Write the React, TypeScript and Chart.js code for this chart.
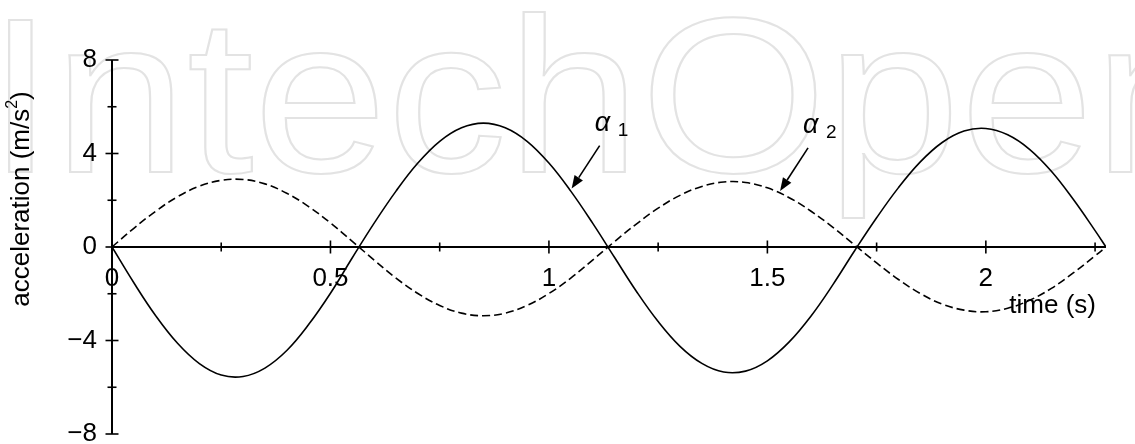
import { useEffect, useRef } from 'react';
import { Chart, registerables } from 'chart.js';

Chart.register(...registerables);

const FONT = "'Liberation Sans', Arial, Helvetica, sans-serif";

// Sample times (s)
const timeS = [
  0, 0.05, 0.1, 0.15, 0.2, 0.25, 0.3, 0.35, 0.4, 0.45, 0.5, 0.55,
  0.6, 0.65, 0.7, 0.75, 0.8, 0.85, 0.9, 0.95, 1.0, 1.05, 1.1,
  1.15, 1.2, 1.25, 1.3, 1.35, 1.4, 1.45, 1.5, 1.55, 1.6, 1.65, 1.7,
  1.75, 1.8, 1.85, 1.9, 1.95, 2.0, 2.05, 2.1, 2.15, 2.2, 2.25, 2.275,
];

// Angular acceleration of body 1 (m/s²)
const alpha1 = [
  0, -1.53, -2.94, -4.12, -4.99, -5.48, -5.54, -5.18, -4.43, -3.32, -1.98, -0.46,
  1.02, 2.39, 3.59, 4.52, 5.1, 5.3, 5.1, 4.52, 3.59, 2.39, 1.02,
  -0.44, -1.89, -3.19, -4.25, -4.98, -5.35, -5.31, -4.87, -4.06, -2.95, -1.61, -0.15,
  1.25, 2.54, 3.64, 4.47, 4.96, 5.07, 4.8, 4.18, 3.24, 2.04, 0.7, 0,
];

// Angular acceleration of body 2 (m/s²)
const alpha2 = [
  0, 0.8, 1.53, 2.15, 2.6, 2.85, 2.89, 2.7, 2.3, 1.73, 1.03, 0.24,
  -0.56, -1.33, -1.99, -2.5, -2.83, -2.94, -2.83, -2.5, -1.99, -1.33, -0.56,
  0.23, 0.98, 1.66, 2.21, 2.59, 2.78, 2.76, 2.53, 2.11, 1.53, 0.84, 0.08,
  -0.68, -1.39, -1.99, -2.44, -2.7, -2.77, -2.62, -2.28, -1.77, -1.11, -0.38, 0,
];

const seriesNames = ['α1', 'α2'];
const calloutSymbols = ['α', 'α'];
const calloutSubs = ['1', '2'];
// where each callout arrow touches its curve (time, acceleration)
const calloutTimes = [1.052, 1.529];
const calloutValues = [2.5, 2.4];

const xMin = 0;
const xMax = 2.275;
const xStep = 0.25;
const xLabelStep = 0.5;
const yMin = -8;
const yMax = 8;
const yStep = 2;
const yLabelStep = 4;

const xTitle = 'time (s)';
const yTitleMain = 'acceleration (m/s';
const yTitleSup = '2';
const yTitleEnd = ')';
const watermark = 'IntechOpen';

const isMultiple = (v: number, step: number) =>
  Math.abs(v / step - Math.round(v / step)) < 1e-6;

const fmtNum = (v: number) => {
  const r = Math.round(v * 100) / 100;
  return r < 0 ? '\u2212' + String(Math.abs(r)) : String(r);
};

const decorPlugin = {
  id: 'decor',
  beforeDraw(chart: any) {
    const { ctx, width, height } = chart;
    ctx.save();
    ctx.fillStyle = '#ffffff';
    ctx.fillRect(0, 0, width, height);
    ctx.translate(-13, 172);
    ctx.scale(1.09, 1);
    ctx.font = `220px ${FONT}`;
    ctx.textBaseline = 'alphabetic';
    ctx.textAlign = 'left';
    ctx.strokeStyle = '#e3e3e3';
    ctx.lineWidth = 2;
    ctx.strokeText(watermark, 0, 0);
    ctx.restore();
  },
  afterDatasetsDraw(chart: any) {
    const { ctx } = chart;
    const xs = chart.scales.x;
    const ys = chart.scales.y;
    const x0 = xs.getPixelForValue(0);
    const y0 = ys.getPixelForValue(0);

    const seg = (ax: number, ay: number, bx: number, by: number) => {
      ctx.beginPath();
      ctx.moveTo(ax, ay);
      ctx.lineTo(bx, by);
      ctx.stroke();
    };

    ctx.save();
    ctx.strokeStyle = '#000';
    ctx.lineCap = 'butt';
    ctx.lineWidth = 2;
    // axis lines crossing at the origin
    seg(x0, ys.top, x0, ys.bottom);
    seg(xs.left, y0, xs.right, y0);

    // tick marks crossing the axis lines
    ctx.lineWidth = 1.6;
    ys.ticks.forEach((t: any) => {
      const p = ys.getPixelForValue(t.value);
      const h = isMultiple(t.value, yLabelStep) ? 6.5 : 4.5;
      seg(x0 - h, p, x0 + h, p);
    });
    xs.ticks.forEach((t: any) => {
      const p = xs.getPixelForValue(t.value);
      const h = isMultiple(t.value, xLabelStep) ? 6.5 : 4.5;
      seg(p, y0 - h, p, y0 + h);
    });

    // callout arrows and labels
    ctx.fillStyle = '#000';
    calloutTimes.forEach((t, i) => {
      const tipX = xs.getPixelForValue(t);
      const tipY = ys.getPixelForValue(calloutValues[i]);
      const tailX = tipX + 28;
      const tailY = tipY - 43;
      const ang = Math.atan2(tipY - tailY, tipX - tailX);
      const headLen = 13;
      const headHalf = 5;
      const bx = tipX - headLen * Math.cos(ang);
      const by = tipY - headLen * Math.sin(ang);
      ctx.lineWidth = 1.6;
      seg(tailX, tailY, bx, by);
      ctx.beginPath();
      ctx.moveTo(tipX, tipY);
      ctx.lineTo(bx + headHalf * Math.sin(ang), by - headHalf * Math.cos(ang));
      ctx.lineTo(bx - headHalf * Math.sin(ang), by + headHalf * Math.cos(ang));
      ctx.closePath();
      ctx.fill();

      ctx.textAlign = 'left';
      ctx.textBaseline = 'alphabetic';
      ctx.font = `italic 27px ${FONT}`;
      ctx.fillText(calloutSymbols[i], tipX + 23, tipY - 58);
      ctx.font = `19px ${FONT}`;
      ctx.fillText(calloutSubs[i], tipX + 46, tipY - 53);
    });

    // x axis title
    ctx.font = `26px ${FONT}`;
    ctx.textAlign = 'right';
    ctx.textBaseline = 'middle';
    ctx.fillText(xTitle, xs.right - 10, y0 + 59);

    // y axis title, rotated
    ctx.translate(22, 199);
    ctx.rotate(-Math.PI / 2);
    ctx.textBaseline = 'middle';
    ctx.textAlign = 'left';
    ctx.font = `26px ${FONT}`;
    const w1 = ctx.measureText(yTitleMain).width;
    const w3 = ctx.measureText(yTitleEnd).width;
    ctx.font = `16px ${FONT}`;
    const w2 = ctx.measureText(yTitleSup).width;
    const start = -(w1 + w2 + w3) / 2;
    ctx.font = `26px ${FONT}`;
    ctx.fillText(yTitleMain, start, 0);
    ctx.font = `16px ${FONT}`;
    ctx.fillText(yTitleSup, start + w1, -9);
    ctx.font = `26px ${FONT}`;
    ctx.fillText(yTitleEnd, start + w1 + w2, 0);
    ctx.restore();
  },
};

export default function App() {
  const canvasRef = useRef<HTMLCanvasElement | null>(null);

  useEffect(() => {
    const canvas = canvasRef.current;
    if (!canvas) return;
    Chart.defaults.font.family = FONT;

    const chart = new Chart(canvas, {
      type: 'line',
      data: {
        datasets: [
          {
            label: seriesNames[0],
            data: timeS.map((t, i) => ({ x: t, y: alpha1[i] })),
            borderColor: '#000',
            borderWidth: 1.6,
            pointRadius: 0,
            tension: 0.4,
            fill: false,
          },
          {
            label: seriesNames[1],
            data: timeS.map((t, i) => ({ x: t, y: alpha2[i] })),
            borderColor: '#000',
            borderWidth: 1.6,
            borderDash: [8, 4],
            pointRadius: 0,
            tension: 0.4,
            fill: false,
          },
        ],
      },
      options: {
        animation: false,
        responsive: false,
        layout: { padding: { left: 0, right: 29, top: 60, bottom: 10 } },
        plugins: {
          legend: { display: false },
          tooltip: { enabled: false },
        },
        scales: {
          x: {
            type: 'linear',
            position: { y: 0 } as any,
            min: xMin,
            max: xMax,
            afterFit: (s: any) => {
              s.height = 0;
              s.paddingTop = 0;
              s.paddingBottom = 0;
              s.paddingLeft = 0;
              s.paddingRight = 0;
            },
            grid: { display: false, drawTicks: false },
            border: { display: false },
            ticks: {
              stepSize: xStep,
              includeBounds: false,
              autoSkip: false,
              maxRotation: 0,
              padding: 16,
              color: '#000',
              font: { size: 26 },
              callback: (v: any) => (isMultiple(Number(v), xLabelStep) ? fmtNum(Number(v)) : ''),
            },
          },
          y: {
            type: 'linear',
            position: 'left',
            min: yMin,
            max: yMax,
            afterFit: (s: any) => {
              s.width = 112;
              s.paddingTop = 0;
              s.paddingBottom = 0;
            },
            grid: { display: false, drawTicks: false },
            border: { display: false },
            ticks: {
              stepSize: yStep,
              autoSkip: false,
              padding: 15,
              color: '#000',
              font: { size: 26 },
              callback: (v: any) => (isMultiple(Number(v), yLabelStep) ? fmtNum(Number(v)) : ''),
            },
          },
        },
      },
      plugins: [decorPlugin],
    });

    return () => chart.destroy();
  }, []);

  return (
    <div style={{ position: 'fixed', left: 0, top: 0, width: 1135, height: 444, background: '#fff' }}>
      <canvas ref={canvasRef} width={1135} height={444} style={{ display: 'block' }} />
    </div>
  );
}
